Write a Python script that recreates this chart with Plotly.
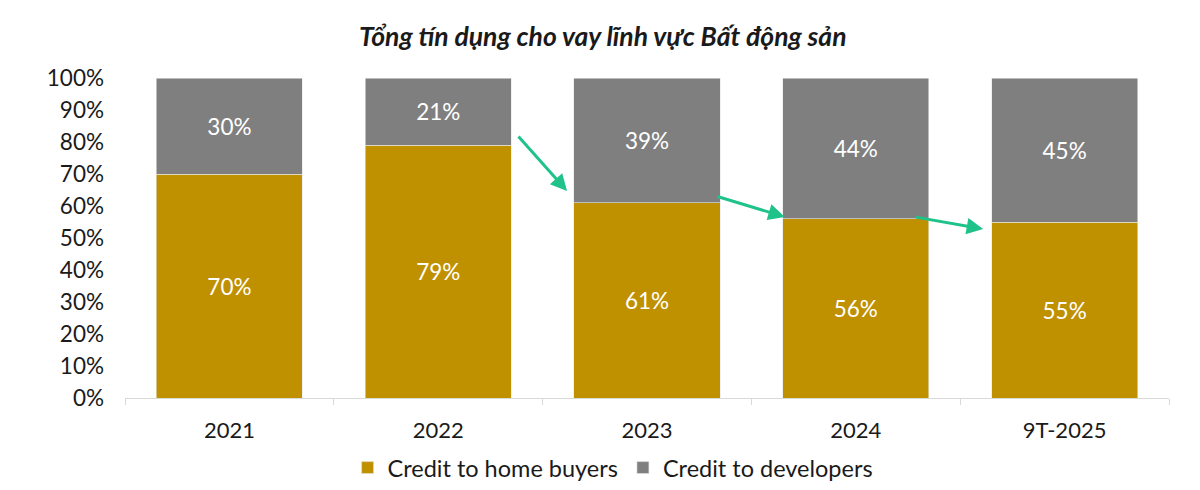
import plotly.graph_objects as go

categories = ["2021", "2022", "2023", "2024", "9T-2025"]
home_buyers = [70, 79, 61, 56, 55]
developers = [30, 21, 39, 44, 45]
y_ticks = [0, 10, 20, 30, 40, 50, 60, 70, 80, 90, 100]

# arrows: (x_start, y_start, x_end, y_end) in category-index / percent units
arrows = [
    (1.378, 82.2, 1.617, 64.7),
    (2.33, 63.1, 2.66, 56.6),
    (3.28, 56.6, 3.61, 52.8),
]

FONT = "Lato"
GOLD = "#BF9000"
GRAY = "#7F7F7F"
GREEN = "#1FC38A"
TXT = "#1a1a1a"

fig = go.Figure()
fig.add_trace(go.Bar(
    x=categories, y=home_buyers, name="Credit to home buyers",
    marker=dict(color=GOLD, line=dict(color="#E6E6E6", width=0.6)),
    text=[f"{v}%" for v in home_buyers], textposition="inside",
    insidetextanchor="middle",
    textfont=dict(color="white", size=22.5, family=FONT),
))
fig.add_trace(go.Bar(
    x=categories, y=developers, name="Credit to developers",
    marker=dict(color=GRAY, line=dict(color="#E6E6E6", width=0.6)),
    text=[f"{v}%" for v in developers], textposition="inside",
    insidetextanchor="middle",
    textfont=dict(color="white", size=22.5, family=FONT),
))

for xs, ys, xe, ye in arrows:
    fig.add_annotation(
        x=xe, y=ye, ax=xs, ay=ys, xref="x", yref="y", axref="x", ayref="y",
        text="", showarrow=True, arrowhead=2, arrowsize=1.1, arrowwidth=3,
        arrowcolor=GREEN,
    )

fig.update_layout(
    width=1192, height=482,
    barmode="stack", bargap=0.30,
    plot_bgcolor="white", paper_bgcolor="white",
    margin=dict(l=116.5, r=30.5, t=70, b=92, autoexpand=False),
    font=dict(family=FONT, size=22, color=TXT),
    uniformtext=dict(minsize=10),
    title=dict(
        text="<b><i>Tổng tín dụng cho vay lĩnh vực Bất động sản</i></b>",
        x=0.499, xanchor="center", y=0.94, yanchor="middle",
        font=dict(family=FONT, size=26.5, color=TXT),
    ),
    legend=dict(
        orientation="h", x=0.4675, xanchor="center",
        yref="container", y=0.046, yanchor="middle",
        font=dict(family=FONT, size=23.5, color=TXT),
        itemwidth=30, traceorder="normal",
    ),
    showlegend=True,
)
fig.update_xaxes(
    type="category", showline=True, linecolor="#D9D9D9", linewidth=1,
    ticks="outside", tickson="boundaries", ticklen=6, tickcolor="#D9D9D9",
    tickfont=dict(family=FONT, size=22, color=TXT),
    showgrid=False, ticklabelstandoff=13, automargin=False,
)
fig.update_yaxes(
    range=[0, 100], tickvals=y_ticks, ticktext=[f"{v}%" for v in y_ticks],
    showgrid=False, showline=False, zeroline=False,
    tickfont=dict(family=FONT, size=22.5, color=TXT),
    ticks="", ticklabelstandoff=20, automargin=False,
)

fig.write_html("out.html")
